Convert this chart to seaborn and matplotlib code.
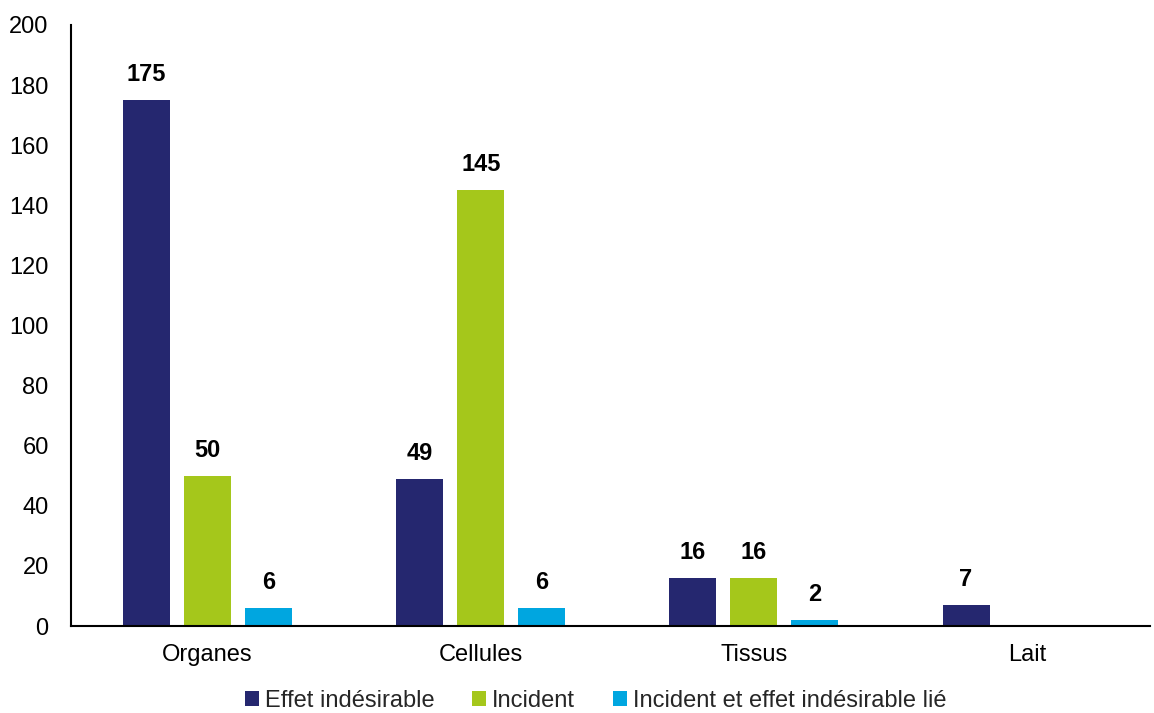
import numpy as np
import pandas as pd
import matplotlib.pyplot as plt
import seaborn as sns

categories = ["Organes", "Cellules", "Tissus", "Lait"]
series = ["Effet indésirable", "Incident", "Incident et effet indésirable lié"]
effet = [175, 49, 16, 7]
incident = [50, 145, 16, np.nan]
incident_lie = [6, 6, 2, np.nan]
colors = ["#25276F", "#A5C71B", "#00A6E0"]

rows = []
for name, vals in zip(series, [effet, incident, incident_lie]):
    for cat, v in zip(categories, vals):
        rows.append({"categorie": cat, "type": name, "valeur": v})
df = pd.DataFrame(rows)

sns.set_theme(style="white")
plt.rcParams['font.family'] = ['Liberation Sans', 'DejaVu Sans']

fig = plt.figure(figsize=(11.54, 7.13), dpi=100)
ax = fig.add_axes([0.0615, 0.122, 0.935, 0.843])

sns.barplot(data=df, x="categorie", y="valeur", hue="type", order=categories,
            hue_order=series, palette=colors, width=0.67, gap=0.23,
            saturation=1, linewidth=0, ax=ax)

for container in ax.containers:
    labels = ["" if np.isnan(v) else f"{int(v)}" for v in container.datavalues]
    ax.bar_label(container, labels=labels, padding=10, fontsize=17,
                 fontweight="bold", color="black")

ax.set_ylim(0, 200)
ax.set_yticks(range(0, 201, 20))
ax.set_xlim(-0.5, 3.45)
ax.set_xlabel("")
ax.set_ylabel("")
ax.tick_params(axis="both", length=0, labelsize=17, colors="black")
ax.tick_params(axis="x", pad=13)
ax.tick_params(axis="y", pad=16)
for s in ["top", "right"]:
    ax.spines[s].set_visible(False)
for s in ["left", "bottom"]:
    ax.spines[s].set_color("black")
    ax.spines[s].set_linewidth(1.5)

handles, labels = ax.get_legend_handles_labels()
ax.legend_.remove()
fig.legend(handles, labels, loc="lower center", bbox_to_anchor=(0.516, -0.028),
           ncol=3, frameon=False, fontsize=17, handlelength=0.6, handleheight=0.6,
           handletextpad=0.25, columnspacing=1.6)

fig.savefig("out.png", dpi=100)
